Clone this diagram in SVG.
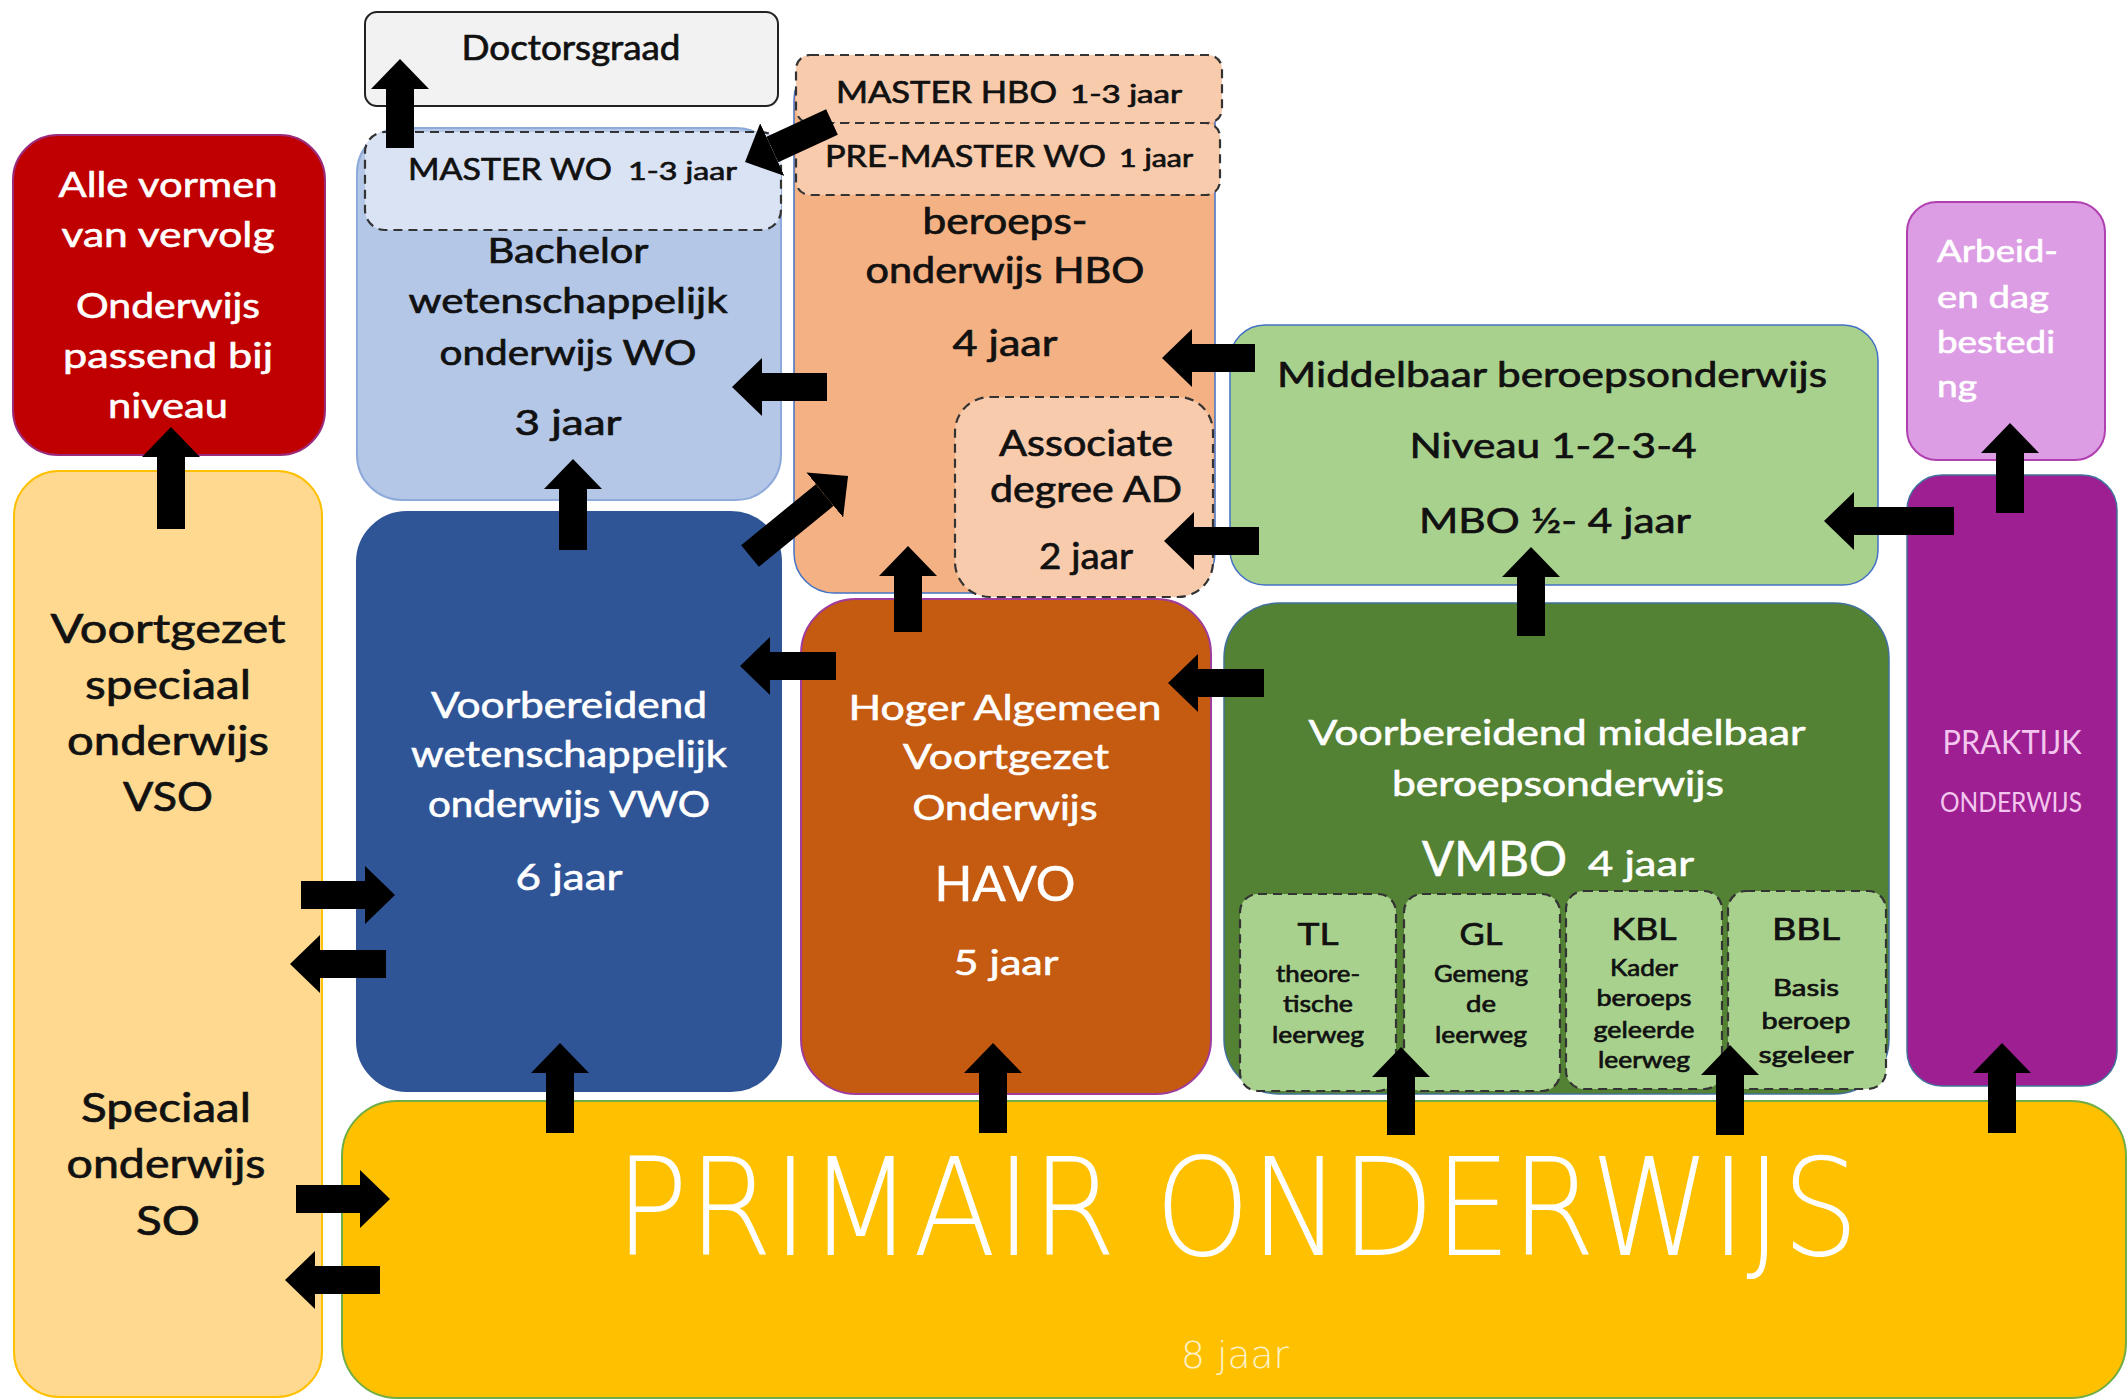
<svg xmlns="http://www.w3.org/2000/svg" width="2128" height="1400" viewBox="0 0 2128 1400">
<defs>
<style>
text{font-family:Lato,"Open Sans","Liberation Sans",sans-serif;}
.c{text-anchor:middle;}
.k{fill:#111;stroke:#111;stroke-width:0.7;}
.w{fill:#fff;stroke:#fff;stroke-width:0.6;}
.dash{stroke:#333;stroke-width:2.2;stroke-dasharray:9 6;}
.conn{stroke:#000;stroke-width:28;stroke-linecap:butt;fill:none;marker-end:url(#ah);}
.thin{font-family:"DejaVu Sans","Open Sans",sans-serif;font-weight:200;stroke:none;}
</style>
<marker id="ah" markerUnits="userSpaceOnUse" markerWidth="30" markerHeight="58" viewBox="0 0 30 58" refX="0" refY="29" orient="auto">
<path d="M0,0 L30,29 L0,58 z" fill="#000"/>
</marker>
</defs>
<rect width="2128" height="1400" fill="#fff"/>

<g id="primair">
<rect x="342" y="1101" width="1784" height="297" rx="55" fill="#ffc000" stroke="#70ad47" stroke-width="2"/>
<text class="c thin" x="1237" y="1255" font-size="136" fill="#fff" textLength="1244" lengthAdjust="spacingAndGlyphs">PRIMAIR ONDERWIJS</text>
<text class="c thin" x="1235" y="1368" font-size="38" fill="#fff2c8" textLength="108" lengthAdjust="spacingAndGlyphs">8 jaar</text>
</g>

<g id="vso">
<rect x="14" y="471" width="308" height="926" rx="45" fill="#fed98f" stroke="#ffc000" stroke-width="2"/>
<text class="c k" x="168" y="643" font-size="40" textLength="235" lengthAdjust="spacingAndGlyphs">Voortgezet</text>
<text class="c k" x="168" y="699" font-size="40" textLength="166" lengthAdjust="spacingAndGlyphs">speciaal</text>
<text class="c k" x="168" y="755" font-size="40" textLength="202" lengthAdjust="spacingAndGlyphs">onderwijs</text>
<text class="c k" x="168" y="811" font-size="40" textLength="90" lengthAdjust="spacingAndGlyphs">VSO</text>
<text class="c k" x="166" y="1122" font-size="40" textLength="170" lengthAdjust="spacingAndGlyphs">Speciaal</text>
<text class="c k" x="166" y="1178" font-size="40" textLength="199" lengthAdjust="spacingAndGlyphs">onderwijs</text>
<text class="c k" x="168" y="1235" font-size="40" textLength="64" lengthAdjust="spacingAndGlyphs">SO</text>
</g>

<g id="vervolg">
<rect x="13" y="135" width="312" height="320" rx="45" fill="#c00000" stroke="#9b2b7a" stroke-width="2"/>
<text class="c w" x="168" y="197" font-size="35" textLength="219" lengthAdjust="spacingAndGlyphs">Alle vormen</text>
<text class="c w" x="168" y="247" font-size="35" textLength="213" lengthAdjust="spacingAndGlyphs">van vervolg</text>
<text class="c w" x="168" y="318" font-size="35" textLength="184" lengthAdjust="spacingAndGlyphs">Onderwijs</text>
<text class="c w" x="168" y="368" font-size="35" textLength="210" lengthAdjust="spacingAndGlyphs">passend bij</text>
<text class="c w" x="168" y="418" font-size="35" textLength="120" lengthAdjust="spacingAndGlyphs">niveau</text>
</g>

<g id="doctorsgraad">
<rect x="365" y="12" width="413" height="94" rx="12" fill="#f2f2f2" stroke="#222" stroke-width="2"/>
<text class="c k" x="571" y="60" font-size="34" textLength="219" lengthAdjust="spacingAndGlyphs">Doctorsgraad</text>
</g>

<g id="bachelor-wo">
<rect x="357" y="128" width="424" height="372" rx="45" fill="#b4c7e7" stroke="#8eaadb" stroke-width="2"/>
<text class="c k" x="568" y="263" font-size="35" textLength="161" lengthAdjust="spacingAndGlyphs">Bachelor</text>
<text class="c k" x="568" y="313" font-size="35" textLength="319" lengthAdjust="spacingAndGlyphs">wetenschappelijk</text>
<text class="c k" x="568" y="365" font-size="35" textLength="257" lengthAdjust="spacingAndGlyphs">onderwijs WO</text>
<text class="c k" x="568" y="435" font-size="35" textLength="107" lengthAdjust="spacingAndGlyphs">3 jaar</text>
</g>

<g id="master-wo">
<rect x="365" y="132" width="416" height="98" rx="20" fill="#dae3f3" class="dash"/>
<text class="k" x="408" y="180" font-size="31" textLength="204" lengthAdjust="spacingAndGlyphs">MASTER WO</text>
<text class="k" x="628" y="180" font-size="25" textLength="109" lengthAdjust="spacingAndGlyphs">1-3 jaar</text>
</g>

<g id="hbo">
<rect x="794" y="60" width="421" height="533" rx="40" fill="#f4b183" stroke="#4472c4" stroke-width="1.5"/>
<text class="c k" x="1005" y="234" font-size="36" textLength="165" lengthAdjust="spacingAndGlyphs">beroeps-</text>
<text class="c k" x="1005" y="283" font-size="36" textLength="279" lengthAdjust="spacingAndGlyphs">onderwijs HBO</text>
<text class="c k" x="1005" y="356" font-size="36" textLength="105" lengthAdjust="spacingAndGlyphs">4 jaar</text>
</g>

<g id="master-hbo">
<rect x="796" y="55" width="426" height="68" rx="14" fill="#f8cbad" class="dash"/>
<text class="k" x="836" y="103" font-size="31" textLength="221" lengthAdjust="spacingAndGlyphs">MASTER HBO</text>
<text class="k" x="1070" y="103" font-size="25" textLength="112" lengthAdjust="spacingAndGlyphs">1-3 jaar</text>
</g>

<g id="pre-master-wo">
<rect x="796" y="123" width="424" height="72" rx="14" fill="#f8cbad" class="dash"/>
<text class="k" x="825" y="167" font-size="31" textLength="281" lengthAdjust="spacingAndGlyphs">PRE-MASTER WO</text>
<text class="k" x="1119" y="167" font-size="25" textLength="74" lengthAdjust="spacingAndGlyphs">1 jaar</text>
</g>

<g id="associate-degree">
<rect x="955" y="397" width="258" height="200" rx="35" fill="#f8cbad" class="dash"/>
<text class="c k" x="1086" y="456" font-size="36" textLength="174" lengthAdjust="spacingAndGlyphs">Associate</text>
<text class="c k" x="1086" y="502" font-size="36" textLength="192" lengthAdjust="spacingAndGlyphs">degree AD</text>
<text class="c k" x="1086" y="569" font-size="36" textLength="94" lengthAdjust="spacingAndGlyphs">2 jaar</text>
</g>

<g id="mbo">
<rect x="1230" y="325" width="648" height="260" rx="35" fill="#a9d18e" stroke="#4472c4" stroke-width="1.5"/>
<text class="c k" x="1552" y="387" font-size="35" textLength="550" lengthAdjust="spacingAndGlyphs">Middelbaar beroepsonderwijs</text>
<text class="c k" x="1553" y="458" font-size="35" textLength="287" lengthAdjust="spacingAndGlyphs">Niveau 1-2-3-4</text>
<text class="c k" x="1555" y="533" font-size="35" textLength="272" lengthAdjust="spacingAndGlyphs">MBO ½- 4 jaar</text>
</g>

<g id="arbeid">
<rect x="1907" y="202" width="198" height="258" rx="30" fill="#dc9de4" stroke="#b040b0" stroke-width="2"/>
<text class="w" x="1937" y="262" font-size="31" textLength="121" lengthAdjust="spacingAndGlyphs">Arbeid-</text>
<text class="w" x="1937" y="308" font-size="31" textLength="112" lengthAdjust="spacingAndGlyphs">en dag</text>
<text class="w" x="1937" y="353" font-size="31" textLength="118" lengthAdjust="spacingAndGlyphs">bestedi</text>
<text class="w" x="1937" y="397" font-size="31" textLength="40" lengthAdjust="spacingAndGlyphs">ng</text>
</g>

<g id="vwo">
<rect x="357" y="512" width="424" height="579" rx="50" fill="#2f5597" stroke="#2f5597" stroke-width="2"/>
<text class="c w" x="569" y="718" font-size="36" textLength="276" lengthAdjust="spacingAndGlyphs">Voorbereidend</text>
<text class="c w" x="569" y="767" font-size="36" textLength="316" lengthAdjust="spacingAndGlyphs">wetenschappelijk</text>
<text class="c w" x="569" y="817" font-size="36" textLength="282" lengthAdjust="spacingAndGlyphs">onderwijs VWO</text>
<text class="c w" x="569" y="890" font-size="36" textLength="107" lengthAdjust="spacingAndGlyphs">6 jaar</text>
</g>

<g id="havo">
<rect x="801" y="599" width="410" height="495" rx="55" fill="#c55a11" stroke="#a03c9c" stroke-width="2"/>
<text class="c w" x="1005" y="720" font-size="35" textLength="313" lengthAdjust="spacingAndGlyphs">Hoger Algemeen</text>
<text class="c w" x="1006" y="769" font-size="35" textLength="206" lengthAdjust="spacingAndGlyphs">Voortgezet</text>
<text class="c w" x="1005" y="820" font-size="35" textLength="185" lengthAdjust="spacingAndGlyphs">Onderwijs</text>
<text class="c w" x="1005" y="901" font-size="48" textLength="141" lengthAdjust="spacingAndGlyphs">HAVO</text>
<text class="c w" x="1006" y="975" font-size="35" textLength="105" lengthAdjust="spacingAndGlyphs">5 jaar</text>
</g>

<g id="vmbo">
<rect x="1224" y="603" width="665" height="491" rx="55" fill="#548235" stroke="#41719c" stroke-width="1.5"/>
<text class="c w" x="1557" y="745" font-size="35" textLength="497" lengthAdjust="spacingAndGlyphs">Voorbereidend middelbaar</text>
<text class="c w" x="1558" y="796" font-size="35" textLength="332" lengthAdjust="spacingAndGlyphs">beroepsonderwijs</text>
<text class="w" x="1422" y="876" font-size="48" textLength="145" lengthAdjust="spacingAndGlyphs">VMBO</text>
<text class="w" x="1588" y="876" font-size="34" textLength="106" lengthAdjust="spacingAndGlyphs">4 jaar</text>
</g>

<g id="vmbo-tl">
<rect x="1240" y="894" width="156" height="197" rx="18" fill="#a9d18e" class="dash"/>
<text class="c k" x="1318" y="945" font-size="31" textLength="41" lengthAdjust="spacingAndGlyphs">TL</text>
<text class="c k" x="1318" y="982" font-size="23" textLength="84" lengthAdjust="spacingAndGlyphs">theore-</text>
<text class="c k" x="1318" y="1012" font-size="23" textLength="70" lengthAdjust="spacingAndGlyphs">tische</text>
<text class="c k" x="1318" y="1043" font-size="23" textLength="92" lengthAdjust="spacingAndGlyphs">leerweg</text>
</g>

<g id="vmbo-gl">
<rect x="1404" y="894" width="156" height="197" rx="18" fill="#a9d18e" class="dash"/>
<text class="c k" x="1481" y="945" font-size="31" textLength="43" lengthAdjust="spacingAndGlyphs">GL</text>
<text class="c k" x="1481" y="982" font-size="23" textLength="94" lengthAdjust="spacingAndGlyphs">Gemeng</text>
<text class="c k" x="1481" y="1012" font-size="23" textLength="30" lengthAdjust="spacingAndGlyphs">de</text>
<text class="c k" x="1481" y="1043" font-size="23" textLength="92" lengthAdjust="spacingAndGlyphs">leerweg</text>
</g>

<g id="vmbo-kbl">
<rect x="1566" y="891" width="156" height="198" rx="18" fill="#a9d18e" class="dash"/>
<text class="c k" x="1644" y="940" font-size="31" textLength="65" lengthAdjust="spacingAndGlyphs">KBL</text>
<text class="c k" x="1644" y="976" font-size="23" textLength="68" lengthAdjust="spacingAndGlyphs">Kader</text>
<text class="c k" x="1644" y="1006" font-size="23" textLength="95" lengthAdjust="spacingAndGlyphs">beroeps</text>
<text class="c k" x="1644" y="1038" font-size="23" textLength="101" lengthAdjust="spacingAndGlyphs">geleerde</text>
<text class="c k" x="1644" y="1068" font-size="23" textLength="92" lengthAdjust="spacingAndGlyphs">leerweg</text>
</g>

<g id="vmbo-bbl">
<rect x="1728" y="891" width="158" height="198" rx="18" fill="#a9d18e" class="dash"/>
<text class="c k" x="1806" y="940" font-size="31" textLength="68" lengthAdjust="spacingAndGlyphs">BBL</text>
<text class="c k" x="1806" y="996" font-size="23" textLength="66" lengthAdjust="spacingAndGlyphs">Basis</text>
<text class="c k" x="1806" y="1029" font-size="23" textLength="89" lengthAdjust="spacingAndGlyphs">beroep</text>
<text class="c k" x="1806" y="1063" font-size="23" textLength="95" lengthAdjust="spacingAndGlyphs">sgeleer</text>
</g>

<g id="praktijk">
<rect x="1907" y="475" width="210" height="611" rx="35" fill="#9e1f92" stroke="#41719c" stroke-width="1.5"/>
<text class="c" x="2012" y="754" font-size="33" fill="#f3c6ee" textLength="139" lengthAdjust="spacingAndGlyphs">PRAKTIJK</text>
<text class="c" x="2011" y="812" font-size="27" fill="#f3c6ee" textLength="142" lengthAdjust="spacingAndGlyphs">ONDERWIJS</text>
</g>

<g id="connectors">
<line class="conn" x1="171" y1="529" x2="171" y2="457"/>
<line class="conn" x1="400" y1="148" x2="400" y2="89"/>
<line class="conn" x1="832" y1="122" x2="772.3" y2="149.5"/>
<line class="conn" x1="827" y1="387" x2="762" y2="387"/>
<line class="conn" x1="750" y1="556" x2="824.8" y2="495"/>
<line class="conn" x1="573" y1="550" x2="573" y2="489"/>
<line class="conn" x1="1255" y1="358" x2="1192" y2="358"/>
<line class="conn" x1="1259" y1="541" x2="1194" y2="541"/>
<line class="conn" x1="908" y1="632" x2="908" y2="576"/>
<line class="conn" x1="836" y1="666" x2="770" y2="666"/>
<line class="conn" x1="1264" y1="683" x2="1198" y2="683"/>
<line class="conn" x1="1531" y1="636" x2="1531" y2="577"/>
<line class="conn" x1="1954" y1="521" x2="1854" y2="521"/>
<line class="conn" x1="2010" y1="513" x2="2010" y2="453"/>
<line class="conn" x1="301" y1="895" x2="365" y2="895"/>
<line class="conn" x1="386" y1="964" x2="320" y2="964"/>
<line class="conn" x1="296" y1="1199" x2="360" y2="1199"/>
<line class="conn" x1="380" y1="1280" x2="315" y2="1280"/>
<line class="conn" x1="560" y1="1133" x2="560" y2="1073"/>
<line class="conn" x1="993" y1="1133" x2="993" y2="1073"/>
<line class="conn" x1="1401" y1="1135" x2="1401" y2="1077"/>
<line class="conn" x1="1730" y1="1135" x2="1730" y2="1075"/>
<line class="conn" x1="2002" y1="1133" x2="2002" y2="1073"/>
</g>
</svg>
